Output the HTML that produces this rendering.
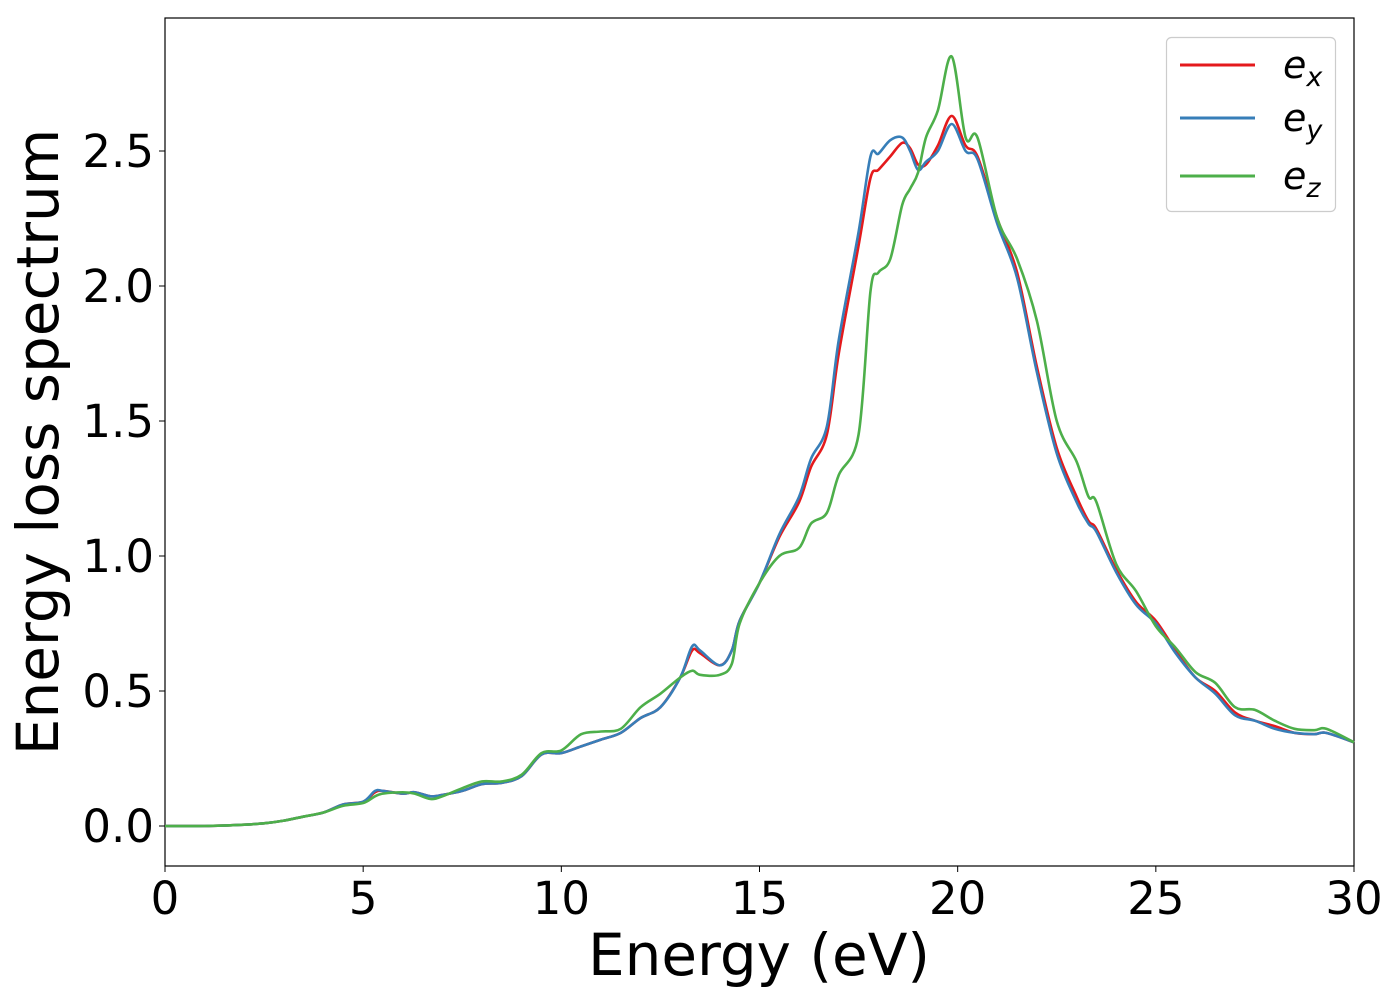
<!DOCTYPE html>
<html><head><meta charset="utf-8"><style>
html,body{margin:0;padding:0;background:#fff;}
svg{display:block;font-family:"DejaVu Sans","Liberation Sans",sans-serif;}
</style></head><body>
<svg id="chart" width="1400" height="1000" viewBox="0 0 1400 1000">
<rect x="165" y="18" width="1189" height="848" fill="#fff" stroke="#000" stroke-width="1.2"/>
<g id="series"></g>
<g id="xticks"></g>
<g id="yticks"></g>
<text x="759" y="975" font-size="58" text-anchor="middle">Energy (eV)</text>
<text transform="translate(58,442) rotate(-90)" font-size="58" text-anchor="middle">Energy loss spectrum</text>
<g>
<rect x="1166.5" y="37.5" width="169" height="174" rx="5" fill="#fff" fill-opacity="0.8" stroke="#ccc" stroke-width="1.2"/>
<g><line x1="1180" y1="65" x2="1255" y2="65" stroke="#e41a1c" stroke-width="3"/><text x="1283" y="78" font-size="38" font-style="italic">e<tspan font-size="27" dy="8">x</tspan></text></g>
<g><line x1="1180" y1="118" x2="1255" y2="118" stroke="#377eb8" stroke-width="3"/><text x="1283" y="131" font-size="38" font-style="italic">e<tspan font-size="27" dy="8">y</tspan></text></g>
<g><line x1="1180" y1="176" x2="1255" y2="176" stroke="#4daf4a" stroke-width="3"/><text x="1283" y="189" font-size="38" font-style="italic">e<tspan font-size="27" dy="8">z</tspan></text></g>
</g>
</svg>
<script>
const energy=[0,1,2,2.5,3,3.5,4,4.5,5,5.3,5.5,6,6.3,6.7,7,7.5,8,8.5,9,9.5,10,10.5,11,11.5,12,12.5,13,13.3,13.5,14,14.3,14.5,15,15.5,16,16.3,16.7,17,17.5,17.8,18,18.3,18.6,18.8,19,19.2,19.5,19.85,20.2,20.5,21,21.5,22,22.5,23,23.3,23.5,24,24.5,25,25.5,26,26.5,27,27.5,28,28.5,29,29.3,30];
const ex=[0,0,0.005,0.01,0.02,0.035,0.05,0.08,0.09,0.125,0.13,0.12,0.125,0.11,0.115,0.13,0.155,0.16,0.185,0.265,0.27,0.295,0.32,0.345,0.4,0.44,0.55,0.65,0.64,0.595,0.65,0.76,0.9,1.07,1.2,1.33,1.45,1.75,2.15,2.4,2.43,2.48,2.53,2.51,2.45,2.45,2.52,2.63,2.52,2.48,2.25,2.05,1.7,1.4,1.22,1.13,1.1,0.95,0.83,0.76,0.65,0.55,0.5,0.42,0.39,0.37,0.345,0.34,0.345,0.31];
const ey=[0,0,0.005,0.01,0.02,0.035,0.05,0.08,0.09,0.13,0.13,0.12,0.125,0.11,0.115,0.13,0.155,0.16,0.185,0.265,0.27,0.295,0.32,0.345,0.4,0.44,0.55,0.665,0.65,0.595,0.65,0.76,0.9,1.08,1.22,1.36,1.48,1.8,2.2,2.48,2.49,2.54,2.55,2.5,2.43,2.46,2.5,2.6,2.5,2.47,2.23,2.03,1.68,1.38,1.2,1.12,1.09,0.94,0.82,0.75,0.64,0.55,0.49,0.41,0.39,0.36,0.345,0.34,0.345,0.31];
const ez=[0,0,0.005,0.01,0.02,0.035,0.05,0.075,0.085,0.11,0.12,0.125,0.12,0.1,0.11,0.14,0.165,0.165,0.19,0.27,0.28,0.34,0.35,0.36,0.44,0.49,0.55,0.575,0.56,0.56,0.6,0.75,0.9,1.0,1.03,1.12,1.16,1.3,1.45,1.98,2.05,2.1,2.3,2.36,2.42,2.55,2.65,2.85,2.55,2.55,2.25,2.1,1.87,1.5,1.35,1.22,1.2,0.97,0.87,0.74,0.66,0.57,0.53,0.44,0.43,0.39,0.36,0.355,0.36,0.31];
const xTicks=[0,5,10,15,20,25,30];
const yTicks=[0,0.5,1.0,1.5,2.0,2.5];
const NS="http://www.w3.org/2000/svg";
function X(v){return 165+v*(1354-165)/30;}
function Y(v){return 826-v*270;}
function pathFor(xs,ys){
  const p=xs.map((x,i)=>[X(x),Y(ys[i])]);
  let d="M"+p[0][0].toFixed(2)+","+p[0][1].toFixed(2);
  for(let i=0;i<p.length-1;i++){
    const p0=p[i-1]||p[i],p1=p[i],p2=p[i+1],p3=p[i+2]||p[i+1];
    const c1x=p1[0]+(p2[0]-p0[0])/6,c1y=p1[1]+(p2[1]-p0[1])/6;
    const c2x=p2[0]-(p3[0]-p1[0])/6,c2y=p2[1]-(p3[1]-p1[1])/6;
    d+="C"+c1x.toFixed(2)+","+c1y.toFixed(2)+" "+c2x.toFixed(2)+","+c2y.toFixed(2)+" "+p2[0].toFixed(2)+","+p2[1].toFixed(2);
  }
  return d;
}
const sg=document.getElementById("series");
[[ex,"#e41a1c","line-ex"],[ey,"#377eb8","line-ey"],[ez,"#4daf4a","line-ez"]].forEach(s=>{
  const el=document.createElementNS(NS,"path");
  el.setAttribute("d",pathFor(energy,s[0]));
  el.setAttribute("fill","none");
  el.setAttribute("stroke",s[1]);
  el.setAttribute("stroke-width","2.6");
  
  
  sg.appendChild(el);
});
const xg=document.getElementById("xticks");
xTicks.forEach(t=>{
  const l=document.createElementNS(NS,"line");
  l.setAttribute("x1",X(t));l.setAttribute("x2",X(t));l.setAttribute("y1",866);l.setAttribute("y2",872);l.setAttribute("stroke","#000");
  
  
  xg.appendChild(l);
  const tx=document.createElementNS(NS,"text");
  tx.setAttribute("x",X(t));tx.setAttribute("y",914);tx.setAttribute("font-size","45");tx.setAttribute("text-anchor","middle");
  tx.textContent=String(t);
  
  
  xg.appendChild(tx);
});
const yg=document.getElementById("yticks");
yTicks.forEach(t=>{
  const l=document.createElementNS(NS,"line");
  l.setAttribute("x1",159);l.setAttribute("x2",165);l.setAttribute("y1",Y(t));l.setAttribute("y2",Y(t));l.setAttribute("stroke","#000");
  
  
  yg.appendChild(l);
  const tx=document.createElementNS(NS,"text");
  tx.setAttribute("x",154);tx.setAttribute("y",Y(t)+16);tx.setAttribute("font-size","45");tx.setAttribute("text-anchor","end");
  tx.textContent=t.toFixed(1);
  
  
  yg.appendChild(tx);
});
</script>
</body></html>
